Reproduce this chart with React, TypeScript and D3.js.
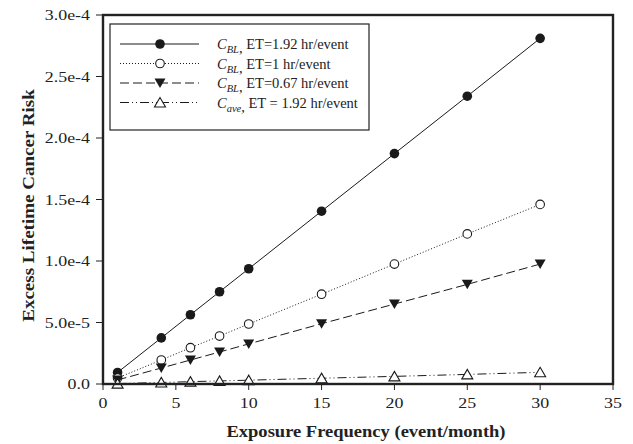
import React, { useEffect, useRef } from "react";
import * as d3 from "d3";

// exposure frequency (event/month)
const frequency = [1, 4, 6, 8, 10, 15, 20, 25, 30];

// excess lifetime cancer risk
const cblHigh = [9.4e-6, 3.75e-5, 5.63e-5, 7.5e-5, 9.37e-5, 1.405e-4, 1.873e-4, 2.34e-4, 2.81e-4];
const cblOne = [4.9e-6, 1.95e-5, 2.95e-5, 3.9e-5, 4.88e-5, 7.3e-5, 9.75e-5, 1.22e-4, 1.46e-4];
const cblLow = [3.3e-6, 1.3e-5, 1.95e-5, 2.6e-5, 3.26e-5, 4.9e-5, 6.5e-5, 8.1e-5, 9.75e-5];
const cave = [3.2e-7, 1.25e-6, 1.9e-6, 2.5e-6, 3.1e-6, 4.7e-6, 6.2e-6, 7.8e-6, 9.5e-6];

const xTicks = [0, 5, 10, 15, 20, 25, 30, 35];
const yTicks = [0, 5e-5, 1e-4, 1.5e-4, 2e-4, 2.5e-4, 3e-4];
const yTickLabels = ["0.0", "5.0e-5", "1.0e-4", "1.5e-4", "2.0e-4", "2.5e-4", "3.0e-4"];

const series = [
  { values: cblHigh, sub: "BL", rest: "ET=1.92 hr/event", dash: null, marker: "dot" },
  { values: cblOne, sub: "BL", rest: "ET=1 hr/event", dash: "1,2", marker: "ring" },
  { values: cblLow, sub: "BL", rest: "ET=0.67 hr/event", dash: "9,4", marker: "down" },
  { values: cave, sub: "ave", rest: "ET = 1.92 hr/event", dash: "9,3,1,3,1,3", marker: "up" },
];

const FONT = "'Liberation Serif', 'Times New Roman', serif";
const INK = "#1a1a1a";

function drawMarker(g, kind, x, y) {
  if (kind === "dot") {
    g.append("circle").attr("cx", x).attr("cy", y).attr("r", 4.8).attr("fill", INK);
  } else if (kind === "ring") {
    g.append("circle").attr("cx", x).attr("cy", y).attr("r", 4.3)
      .attr("fill", "#fff").attr("stroke", INK).attr("stroke-width", 1.1);
  } else if (kind === "down") {
    g.append("path").attr("d", `M${x - 5.5},${y - 4.5}L${x + 5.5},${y - 4.5}L${x},${y + 5}Z`)
      .attr("fill", INK);
  } else {
    g.append("path").attr("d", `M${x - 5.5},${y + 4.5}L${x + 5.5},${y + 4.5}L${x},${y - 5}Z`)
      .attr("fill", "#fff").attr("stroke", INK).attr("stroke-width", 1.1);
  }
}

export default function App() {
  const ref = useRef(null);

  useEffect(() => {
    const svg = d3.select(ref.current);
    svg.selectAll("*").remove();

    const left = 103, right = 613, top = 15, bottom = 384;
    const x = d3.scaleLinear().domain([0, 35]).range([left, right]);
    const y = d3.scaleLinear().domain([0, 3e-4]).range([bottom, top]);

    // series
    const plot = svg.append("g");
    series.forEach(s => {
      const line = d3.line().x((d, i) => x(frequency[i])).y(d => y(d));
      plot.append("path")
        .attr("d", line(s.values))
        .attr("fill", "none")
        .attr("stroke", INK)
        .attr("stroke-width", 1)
        .attr("stroke-dasharray", s.dash);
      s.values.forEach((v, i) => drawMarker(plot, s.marker, x(frequency[i]), y(v)));
    });

    // frame
    svg.append("rect")
      .attr("x", left).attr("y", top)
      .attr("width", right - left).attr("height", bottom - top)
      .attr("fill", "none").attr("stroke", "#222").attr("stroke-width", 2.4);

    // x axis (the tick text in the original is drawn wide)
    const xa = svg.append("g").attr("font-family", FONT).attr("font-size", 14).attr("fill", "#222");
    xTicks.forEach(t => {
      xa.append("line").attr("x1", x(t)).attr("x2", x(t)).attr("y1", bottom).attr("y2", bottom + 6)
        .attr("stroke", "#222").attr("stroke-width", 1);
      xa.append("text")
        .attr("transform", `translate(${x(t)},${bottom + 24}) scale(1.28,1)`)
        .attr("text-anchor", "middle")
        .text(t);
    });

    // y axis
    const ya = svg.append("g").attr("font-family", FONT).attr("font-size", 14).attr("fill", "#222");
    yTicks.forEach((t, i) => {
      ya.append("line").attr("x1", left - 7).attr("x2", left).attr("y1", y(t)).attr("y2", y(t))
        .attr("stroke", "#222").attr("stroke-width", 1);
      ya.append("text")
        .attr("transform", `translate(${left - 13},${y(t) + 5}) scale(1.28,1)`)
        .attr("text-anchor", "end")
        .text(yTickLabels[i]);
    });

    svg.append("text")
      .attr("transform", `translate(${(left + right) / 2 + 8},437) scale(1.09,1)`)
      .attr("text-anchor", "middle")
      .attr("font-family", FONT).attr("font-size", 17).attr("font-weight", "bold")
      .attr("fill", "#222")
      .text("Exposure Frequency (event/month)");

    svg.append("text")
      .attr("transform", `translate(34,${(top + bottom) / 2 + 6}) rotate(-90) scale(1.12,1)`)
      .attr("text-anchor", "middle")
      .attr("font-family", FONT).attr("font-size", 17).attr("font-weight", "bold")
      .attr("fill", "#222")
      .text("Excess Lifetime Cancer Risk");

    // legend
    const lg = svg.append("g");
    lg.append("rect").attr("x", 110).attr("y", 24).attr("width", 259).attr("height", 106)
      .attr("fill", "#fff").attr("stroke", "#222").attr("stroke-width", 1.2);
    series.forEach((s, i) => {
      const ry = 44 + i * 19.5;
      lg.append("line").attr("x1", 120).attr("x2", 199).attr("y1", ry).attr("y2", ry)
        .attr("stroke", INK).attr("stroke-width", 1).attr("stroke-dasharray", s.dash);
      drawMarker(lg, s.marker, 160, ry);
      const t = lg.append("text").attr("x", 217).attr("y", ry + 5)
        .attr("font-family", FONT).attr("font-size", 14.5).attr("fill", "#222");
      t.append("tspan").attr("font-style", "italic").text("C");
      t.append("tspan").attr("font-style", "italic").attr("font-size", 10.5).attr("dy", 4).text(s.sub);
      t.append("tspan").text(",");
      t.append("tspan").attr("dy", -4).text(" " + s.rest);
    });
  }, []);

  return (
    <svg
      ref={ref}
      width={633}
      height={444}
      style={{ position: "absolute", left: 0, top: 0, background: "#fff" }}
    />
  );
}
